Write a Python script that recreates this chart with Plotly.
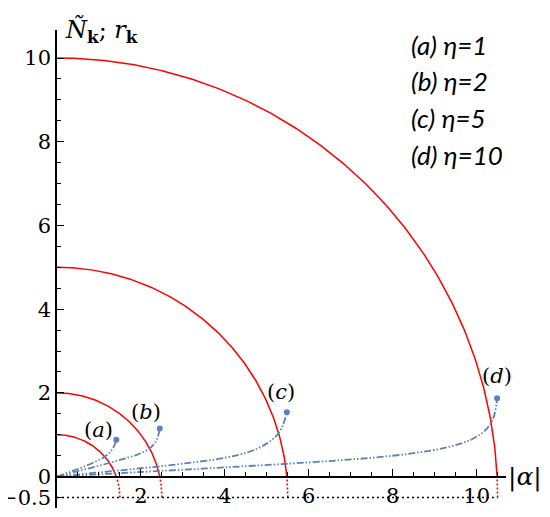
import numpy as np
import plotly.graph_objects as go

# 参数 η 与曲线标签
eta = [1, 2, 5, 10]
curve_tags = ["a", "b", "c", "d"]

# r_k 曲线
r_a_x = [0, 0.3, 0.6, 0.9, 1.1, 1.22, 1.31, 1.37, 1.414]
r_a_y = [0, 0.11, 0.22, 0.35, 0.45, 0.54, 0.64, 0.75, 0.88]
r_b_x = [0, 0.5, 1.0, 1.5, 1.9, 2.1, 2.25, 2.35, 2.41, 2.449]
r_b_y = [0, 0.13, 0.26, 0.4, 0.52, 0.61, 0.71, 0.83, 0.97, 1.15]
r_c_x = [0, 1, 2, 3, 4, 4.6, 5.0, 5.25, 5.38, 5.477]
r_c_y = [0, 0.1, 0.2, 0.31, 0.45, 0.6, 0.79, 1.0, 1.22, 1.54]
r_d_x = [0, 2, 4, 6, 7.5, 8.5, 9.3, 9.9, 10.25, 10.4, 10.488]
r_d_y = [0, 0.11, 0.22, 0.34, 0.45, 0.56, 0.7, 0.9, 1.15, 1.4, 1.87]
r_x = [r_a_x, r_b_x, r_c_x, r_d_x]
r_y = [r_a_y, r_b_y, r_c_y, r_d_y]

# 标签位置
tag_x = [1.0, 2.12, 5.33, 10.48]
tag_y = [1.12, 1.55, 2.03, 2.4]

x_ticks = [2, 4, 6, 8, 10]
y_ticks = [-0.5, 0, 2, 4, 6, 8, 10]
y_ticktext = ["−0.5", "0", "2", "4", "6", "8", "10"]
minor_ticks = [i * 0.5 for i in range(1, 22)]

X_MIN, X_MAX = 0, 10.7
Y_MIN, Y_MAX = -0.75, 10.67
W, H = 550, 517
# 页面 body 有 8px 边距，左、上边距相应减去
ML, MR, MT, MB = 49, 52, 22, 17

BLUE = "#5E81B5"
RED = "#FF0000"
SERIF = "DejaVu Serif"

fig = go.Figure()

# η 圆弧：圆心 (0, -0.5)，半径 η+0.5；y<0 部分为虚线
for e in eta:
    R = e + 0.5
    th = np.linspace(np.arcsin(0.5 / R), np.pi / 2, 200)
    fig.add_trace(go.Scatter(x=R * np.cos(th), y=R * np.sin(th) - 0.5, mode="lines",
                             line=dict(color=RED, width=1.5), hoverinfo="skip"))
    th2 = np.linspace(0, np.arcsin(0.5 / R), 20)
    fig.add_trace(go.Scatter(x=R * np.cos(th2), y=R * np.sin(th2) - 0.5, mode="lines",
                             line=dict(color=RED, width=1.6, dash="2px,2px"), hoverinfo="skip"))

# y = -0.5 参考线
fig.add_shape(type="line", x0=0, x1=eta[-1] + 0.5, y0=-0.5, y1=-0.5,
              line=dict(color="black", width=1.5, dash="2px,3px"))

for xs, ys in zip(r_x, r_y):
    fig.add_trace(go.Scatter(x=xs, y=ys, mode="lines", line_shape="spline",
                             line=dict(color=BLUE, width=1.8, dash="7px,2px,1.5px,2px,1.5px,2px")))
    fig.add_trace(go.Scatter(x=[xs[-1]], y=[ys[-1]], mode="markers",
                             marker=dict(color=BLUE, size=6)))

for t, tx, ty in zip(curve_tags, tag_x, tag_y):
    fig.add_annotation(x=tx, y=ty, text=f"(<i>{t}</i>)",
                       showarrow=False, font=dict(family=SERIF, size=21, color="black"))

for i, (t, e) in enumerate(zip(curve_tags, eta)):
    fig.add_annotation(x=8.4, y=10.32 - i * 0.88, xanchor="left", yanchor="middle",
                       text=f"<i>({t}) η={e}</i>", showarrow=False,
                       font=dict(family="Lato", size=26, color="black"))

fig.add_annotation(x=0.14, y=10.65, xanchor="left", yanchor="middle", showarrow=False,
                   text="<i>Ñ</i><sub><b>k</b></sub>; <i>r</i><sub><b>k</b></sub>",
                   font=dict(family=SERIF, size=24, color="black"))

# x 轴放在 y = 0 处（位置以绘图区归一化坐标计）
x_pos = (0 - Y_MIN) / (Y_MAX - Y_MIN)

fig.add_annotation(xref="paper", yref="paper", x=1.043, y=x_pos,
                   xanchor="center", yanchor="middle", showarrow=False,
                   text="|<i>α</i>|", font=dict(family=SERIF, size=25, color="black"))

fig.update_layout(
    width=W, height=H,
    margin=dict(l=ML, r=MR, t=MT, b=MB),
    plot_bgcolor="white", paper_bgcolor="white",
    showlegend=False,
    xaxis=dict(range=[X_MIN, X_MAX], anchor="free", position=x_pos, automargin=False,
               showline=True, linecolor="black", linewidth=1.5,
               tickmode="array", tickvals=x_ticks, ticks="inside", ticklen=7,
               tickwidth=1.2, tickcolor="black",
               minor=dict(tickmode="array", tickvals=minor_ticks, ticks="inside",
                          ticklen=4, tickwidth=1, tickcolor="black"),
               tickfont=dict(family=SERIF, size=21, color="black"),
               showgrid=False, zeroline=False),
    yaxis=dict(range=[Y_MIN, Y_MAX], automargin=False,
               showline=True, linecolor="black", linewidth=1.5,
               tickmode="array", tickvals=y_ticks, ticktext=y_ticktext,
               ticks="inside", ticklen=7, tickwidth=1.2, tickcolor="black",
               minor=dict(tickmode="array", tickvals=[0] + minor_ticks[:19], ticks="inside",
                          ticklen=4, tickwidth=1, tickcolor="black"),
               tickfont=dict(family=SERIF, size=21, color="black"),
               showgrid=False, zeroline=False),
)

fig.write_html("out.html")
